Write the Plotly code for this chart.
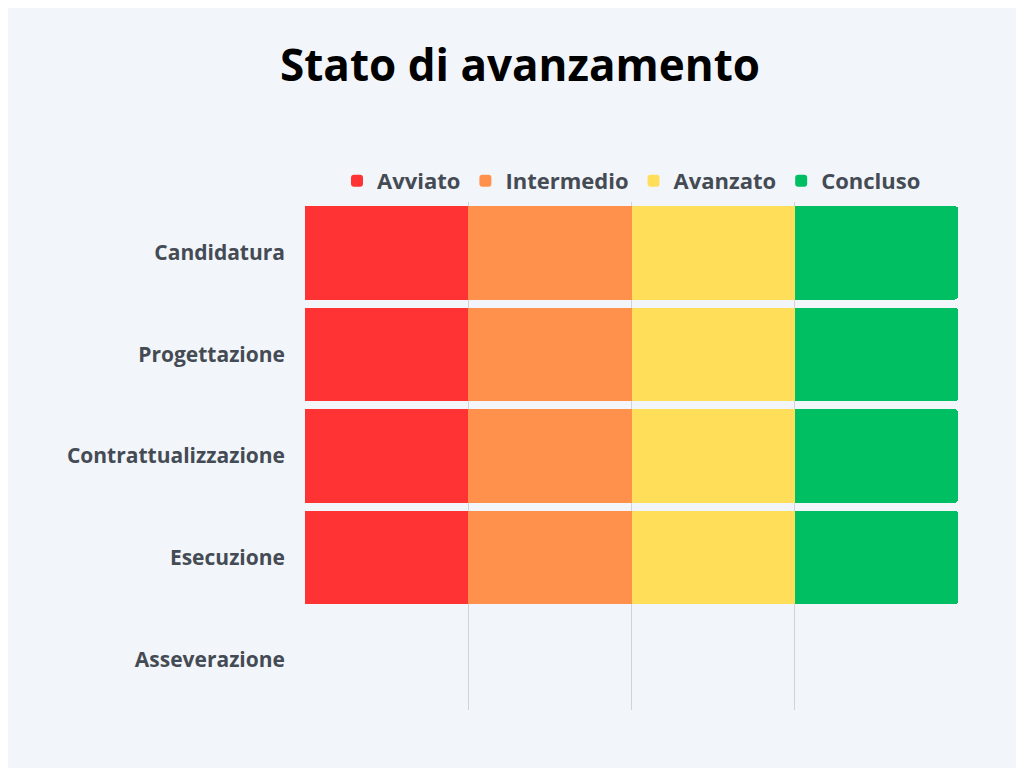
import plotly.graph_objects as go

categories = ["Candidatura", "Progettazione", "Contrattualizzazione", "Esecuzione", "Asseverazione"]
series_names = ["Avviato", "Intermedio", "Avanzato", "Concluso"]
series_values = [
    [1, 1, 1, 1, 0],
    [1, 1, 1, 1, 0],
    [1, 1, 1, 1, 0],
    [1, 1, 1, 1, 0],
]
colors = ["#ff3333", "#ff914d", "#ffde59", "#00bf63"]

fig = go.Figure()
for name, vals, c in zip(series_names, series_values, colors):
    fig.add_trace(go.Bar(y=categories, x=vals, name=name, orientation="h",
                         marker=dict(color=c, line=dict(width=0))))

fig.update_layout(
    barmode="stack", bargap=0.08, barcornerradius=4,
    width=1024, height=768,
    paper_bgcolor="#f2f6fa", plot_bgcolor="#f2f6fa",
    margin=dict(l=296, r=73, t=194, b=66),
    title=dict(text="<b>Stato di avanzamento</b>", x=0.5, xanchor="center", y=0.945,
               font=dict(family="Open Sans", size=44, color="#000000")),
    legend=dict(orientation="h", x=0.5, xanchor="center", y=1.0, yanchor="bottom",
                font=dict(family="Open Sans", size=22, color="#454b54", weight="bold"),
                itemwidth=30, traceorder="normal"),
    font=dict(family="Open Sans", color="#454b54"),
)
fig.update_xaxes(range=[-0.004, 4.004], tickvals=[0, 1, 2, 3, 4], showticklabels=False,
                 showgrid=True, gridcolor="#d0d4d9", gridwidth=1, zeroline=False, fixedrange=True)
fig.update_yaxes(autorange="reversed",
                 tickfont=dict(family="Open Sans", size=21, color="#454b54", weight="bold"),
                 ticklabelstandoff=18, showgrid=False)
fig.write_html("out.html")
